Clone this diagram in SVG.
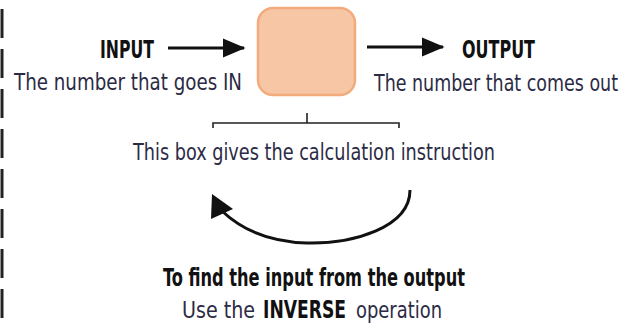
<svg xmlns="http://www.w3.org/2000/svg" width="630" height="328" viewBox="0 0 630 328">
  <style>
    .head { font-family: "Liberation Sans Narrow", "DejaVu Sans Condensed", "Liberation Sans", sans-serif; font-size: 24px; font-weight: bold; fill: #111111; }
    .sub { font-family: "Liberation Sans Narrow", "DejaVu Sans Condensed", "Liberation Sans", sans-serif; font-size: 23px; fill: #2b2b45; }
    .line { stroke: #111111; stroke-width: 3; fill: none; }
    .thin { stroke: #222222; stroke-width: 1.6; fill: none; }
  </style>
  <defs>
    <marker id="arrow" markerWidth="8" markerHeight="8" refX="7" refY="4" orient="auto" markerUnits="strokeWidth">
      <path d="M0,0.8 L7.5,4 L0,7.2 Z" fill="#111111"/>
    </marker>
  </defs>

  <rect width="630" height="328" fill="#ffffff"/>

  <g id="margin">
    <line x1="2" y1="9" x2="2" y2="328" stroke="#222222" stroke-width="3" stroke-dasharray="29 11"/>
  </g>

  <g id="input">
    <text class="head" x="100" y="58" textLength="54" lengthAdjust="spacingAndGlyphs">INPUT</text>
    <text class="sub" x="14" y="90" textLength="228" lengthAdjust="spacingAndGlyphs">The number that goes IN</text>
  </g>

  <g id="box">
    <rect x="258" y="8" width="97" height="87" rx="15" ry="15" fill="#f7c6a5" stroke="#f2ab7c" stroke-width="2.5"/>
  </g>

  <g id="output">
    <text class="head" x="462" y="58" textLength="73" lengthAdjust="spacingAndGlyphs">OUTPUT</text>
    <text class="sub" x="374" y="91" textLength="244" lengthAdjust="spacingAndGlyphs">The number that comes out</text>
  </g>

  <g id="instruction">
    <path class="thin" d="M213,128 L213,123 L399,123 L399,128 M307,113 L307,123"/>
    <text class="sub" x="133" y="160" textLength="362" lengthAdjust="spacingAndGlyphs">This box gives the calculation instruction</text>
  </g>

  <g id="inverse">
    <text class="head" x="163" y="286" textLength="302" lengthAdjust="spacingAndGlyphs">To find the input from the output</text>
    <text class="sub" x="182" y="318" textLength="73" lengthAdjust="spacingAndGlyphs">Use the</text>
    <text class="head" x="263" y="318" font-size="23" textLength="83" lengthAdjust="spacingAndGlyphs">INVERSE</text>
    <text class="sub" x="356" y="318" textLength="86" lengthAdjust="spacingAndGlyphs">operation</text>
  </g>

  <g id="connectors">
    <line class="line" x1="168" y1="48" x2="244" y2="48" marker-end="url(#arrow)"/>
    <line class="line" x1="367" y1="47" x2="443" y2="47" marker-end="url(#arrow)"/>
    <path class="line" d="M410,190 C410,228 352,244 307,243 C272,242 243,231 222,211"/>
    <polygon points="212,194 211,219 233,209" fill="#111111"/>
  </g>
</svg>
